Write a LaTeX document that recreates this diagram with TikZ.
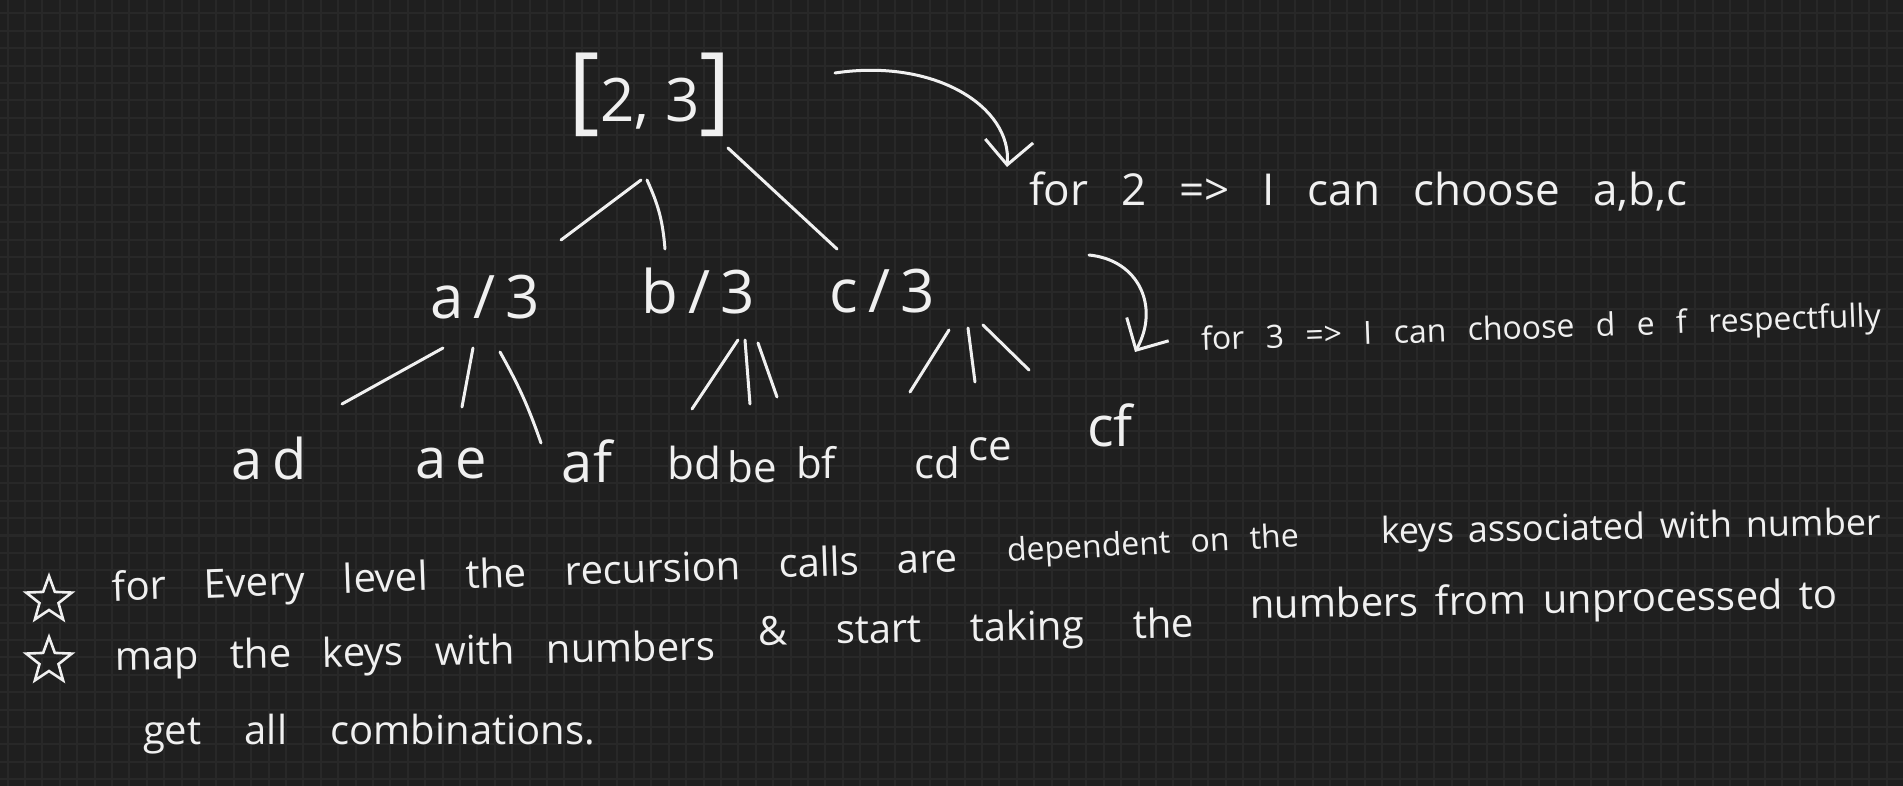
\documentclass[tikz,border=0pt]{standalone}
\usepackage{fontspec}
\setmainfont{Open Sans}
\usetikzlibrary{shapes.geometric,arrows.meta,calc}
\definecolor{bg}{HTML}{1F1F1F}
\definecolor{gridc}{HTML}{282828}
\definecolor{ink}{HTML}{F0F0F0}
\newcommand{\fs}[1]{\fontsize{#1}{#1}\selectfont}
\newcommand{\spread}[2]{\makebox[#1][s]{#2}}
\tikzset{
  pen/.style={draw=ink, line width=1.5pt, line cap=round, line join=round},
  txt/.style={text=ink, inner sep=0pt, anchor=center},
  arr/.style={pen, -{Straight Barb[length=12pt,width=24pt]}},
  bulletstar/.style={star, star points=5, star point ratio=2.4, draw=ink, line width=1.3pt, minimum size=24pt, inner sep=0pt},
  gridline/.style={draw=gridc, line width=1pt},
}
\begin{document}
\begin{tikzpicture}[x=0.5pt,y=-0.5pt]
\fill[bg] (0,0) rectangle (1903,786);
\useasboundingbox (0,0) rectangle (1903,786);
\foreach \i in {0,...,109} \draw[gridline] ({7.5+17.4*\i},0) -- ({7.5+17.4*\i},786);
\foreach \j in {0,...,44} \draw[gridline] (0,{13.5+17.4*\j}) -- (1903,{13.5+17.4*\j});

% tree nodes
\node[txt] (root) at (650,95) {{\fs{48}[}{\fs{30}2, 3}{\fs{48}]}};
\node[txt,font=\fs{30}] (a3) at (485,297) {a\,/\,3};
\node[txt,font=\fs{30}] (b3) at (698,291) {b\,/\,3};
\node[txt,font=\fs{30}] (c3) at (882,291) {c\,/\,3};

\node[txt,font=\fs{28}] (ad) at (269,459) {a\,d};
\node[txt,font=\fs{28}] (ae) at (451,464) {a\,e};
\node[txt,font=\fs{28}] (af) at (587,461) {af};
\node[txt,font=\fs{22}] (bd) at (694,463) {bd};
\node[txt,font=\fs{21}] (be) at (752,467) {be};
\node[txt,font=\fs{21}] (bf) at (816,463) {bf};
\node[txt,font=\fs{21}] (cd) at (937,463) {cd};
\node[txt,font=\fs{21}] (ce) at (990,449) {ce};
\node[txt,font=\fs{28}] (cf) at (1110,425) {cf};

% tree edges
\draw[pen] ([shift={(-9,85)}]root.center) -- ([shift={(76,-57)}]a3.center);
\draw[pen] ([shift={(-3,85)}]root.center) to[bend left=10] ([shift={(-33,-42)}]b3.center);
\draw[pen] ([shift={(78,53)}]root.center) -- ([shift={(-45,-42)}]c3.center);

\draw[pen] ([shift={(-42,51)}]a3.center) -- ([shift={(73,-55)}]ad.center);
\draw[pen] ([shift={(-12,51)}]a3.center) -- ([shift={(11,-57)}]ae.center);
\draw[pen] ([shift={(15,55)}]a3.center) to[bend left=5] ([shift={(-46,-18)}]af.center);

\draw[pen] ([shift={(40,49)}]b3.center) -- ([shift={(-2,-54)}]bd.center);
\draw[pen] ([shift={(47,49)}]b3.center) -- ([shift={(-2,-63)}]be.center);
\draw[pen] ([shift={(60,52)}]b3.center) -- ([shift={(-39,-66)}]bf.center);

\draw[pen] ([shift={(67,39)}]c3.center) -- ([shift={(-27,-71)}]cd.center);
\draw[pen] ([shift={(86,37)}]c3.center) -- ([shift={(-15,-67)}]ce.center);
\draw[pen] ([shift={(101,34)}]c3.center) -- ([shift={(-81,-55)}]cf.center);

% side notes
\node[txt,font=\fs{22}] (t2) at (1358,192) {\spread{329pt}{for 2 => I can choose a,b,c}};
\node[txt,font=\fs{16},rotate=2] (t3) at (1541,330) {\spread{340pt}{for 3 => I can choose d e f respectfully}};

\draw[arr] ([shift={(185,-22)}]root.center) .. controls +(100,-15) and +(5,-60) .. ([shift={(-351,-25)}]t2.center);
\draw[arr] ([shift={(207,-36)}]c3.center) .. controls +(50,5) and +(25,-45) .. ([shift={(-406,22)}]t3.center);

% bullet notes
\node[bulletstar] (s1) at (49,600) {};
\node[bulletstar] (s2) at (49,661) {};
\node[txt,font=\fs{20},rotate=2] (l1a) at (535,576) {\spread{423pt}{for Every level the recursion calls are}};
\node[txt,font=\fs{16},rotate=3] (l1b) at (1153,546) {\spread{146pt}{dependent on the}};
\node[txt,font=\fs{18},rotate=1] (l1c) at (1631,530) {\spread{250pt}{keys associated with number}};
\node[txt,font=\fs{20},rotate=1] (l2a) at (415,655) {\spread{300pt}{map the keys with numbers}};
\node[txt,font=\fs{20},rotate=1] (l2b) at (976,631) {\spread{218pt}{\& start taking the}};
\node[txt,font=\fs{20},rotate=1] (l2c) at (1544,603) {\spread{294pt}{numbers from unprocessed to}};
\node[txt,font=\fs{20}] (l3) at (369,734) {\spread{226pt}{get all combinations.}};
\end{tikzpicture}
\end{document}
